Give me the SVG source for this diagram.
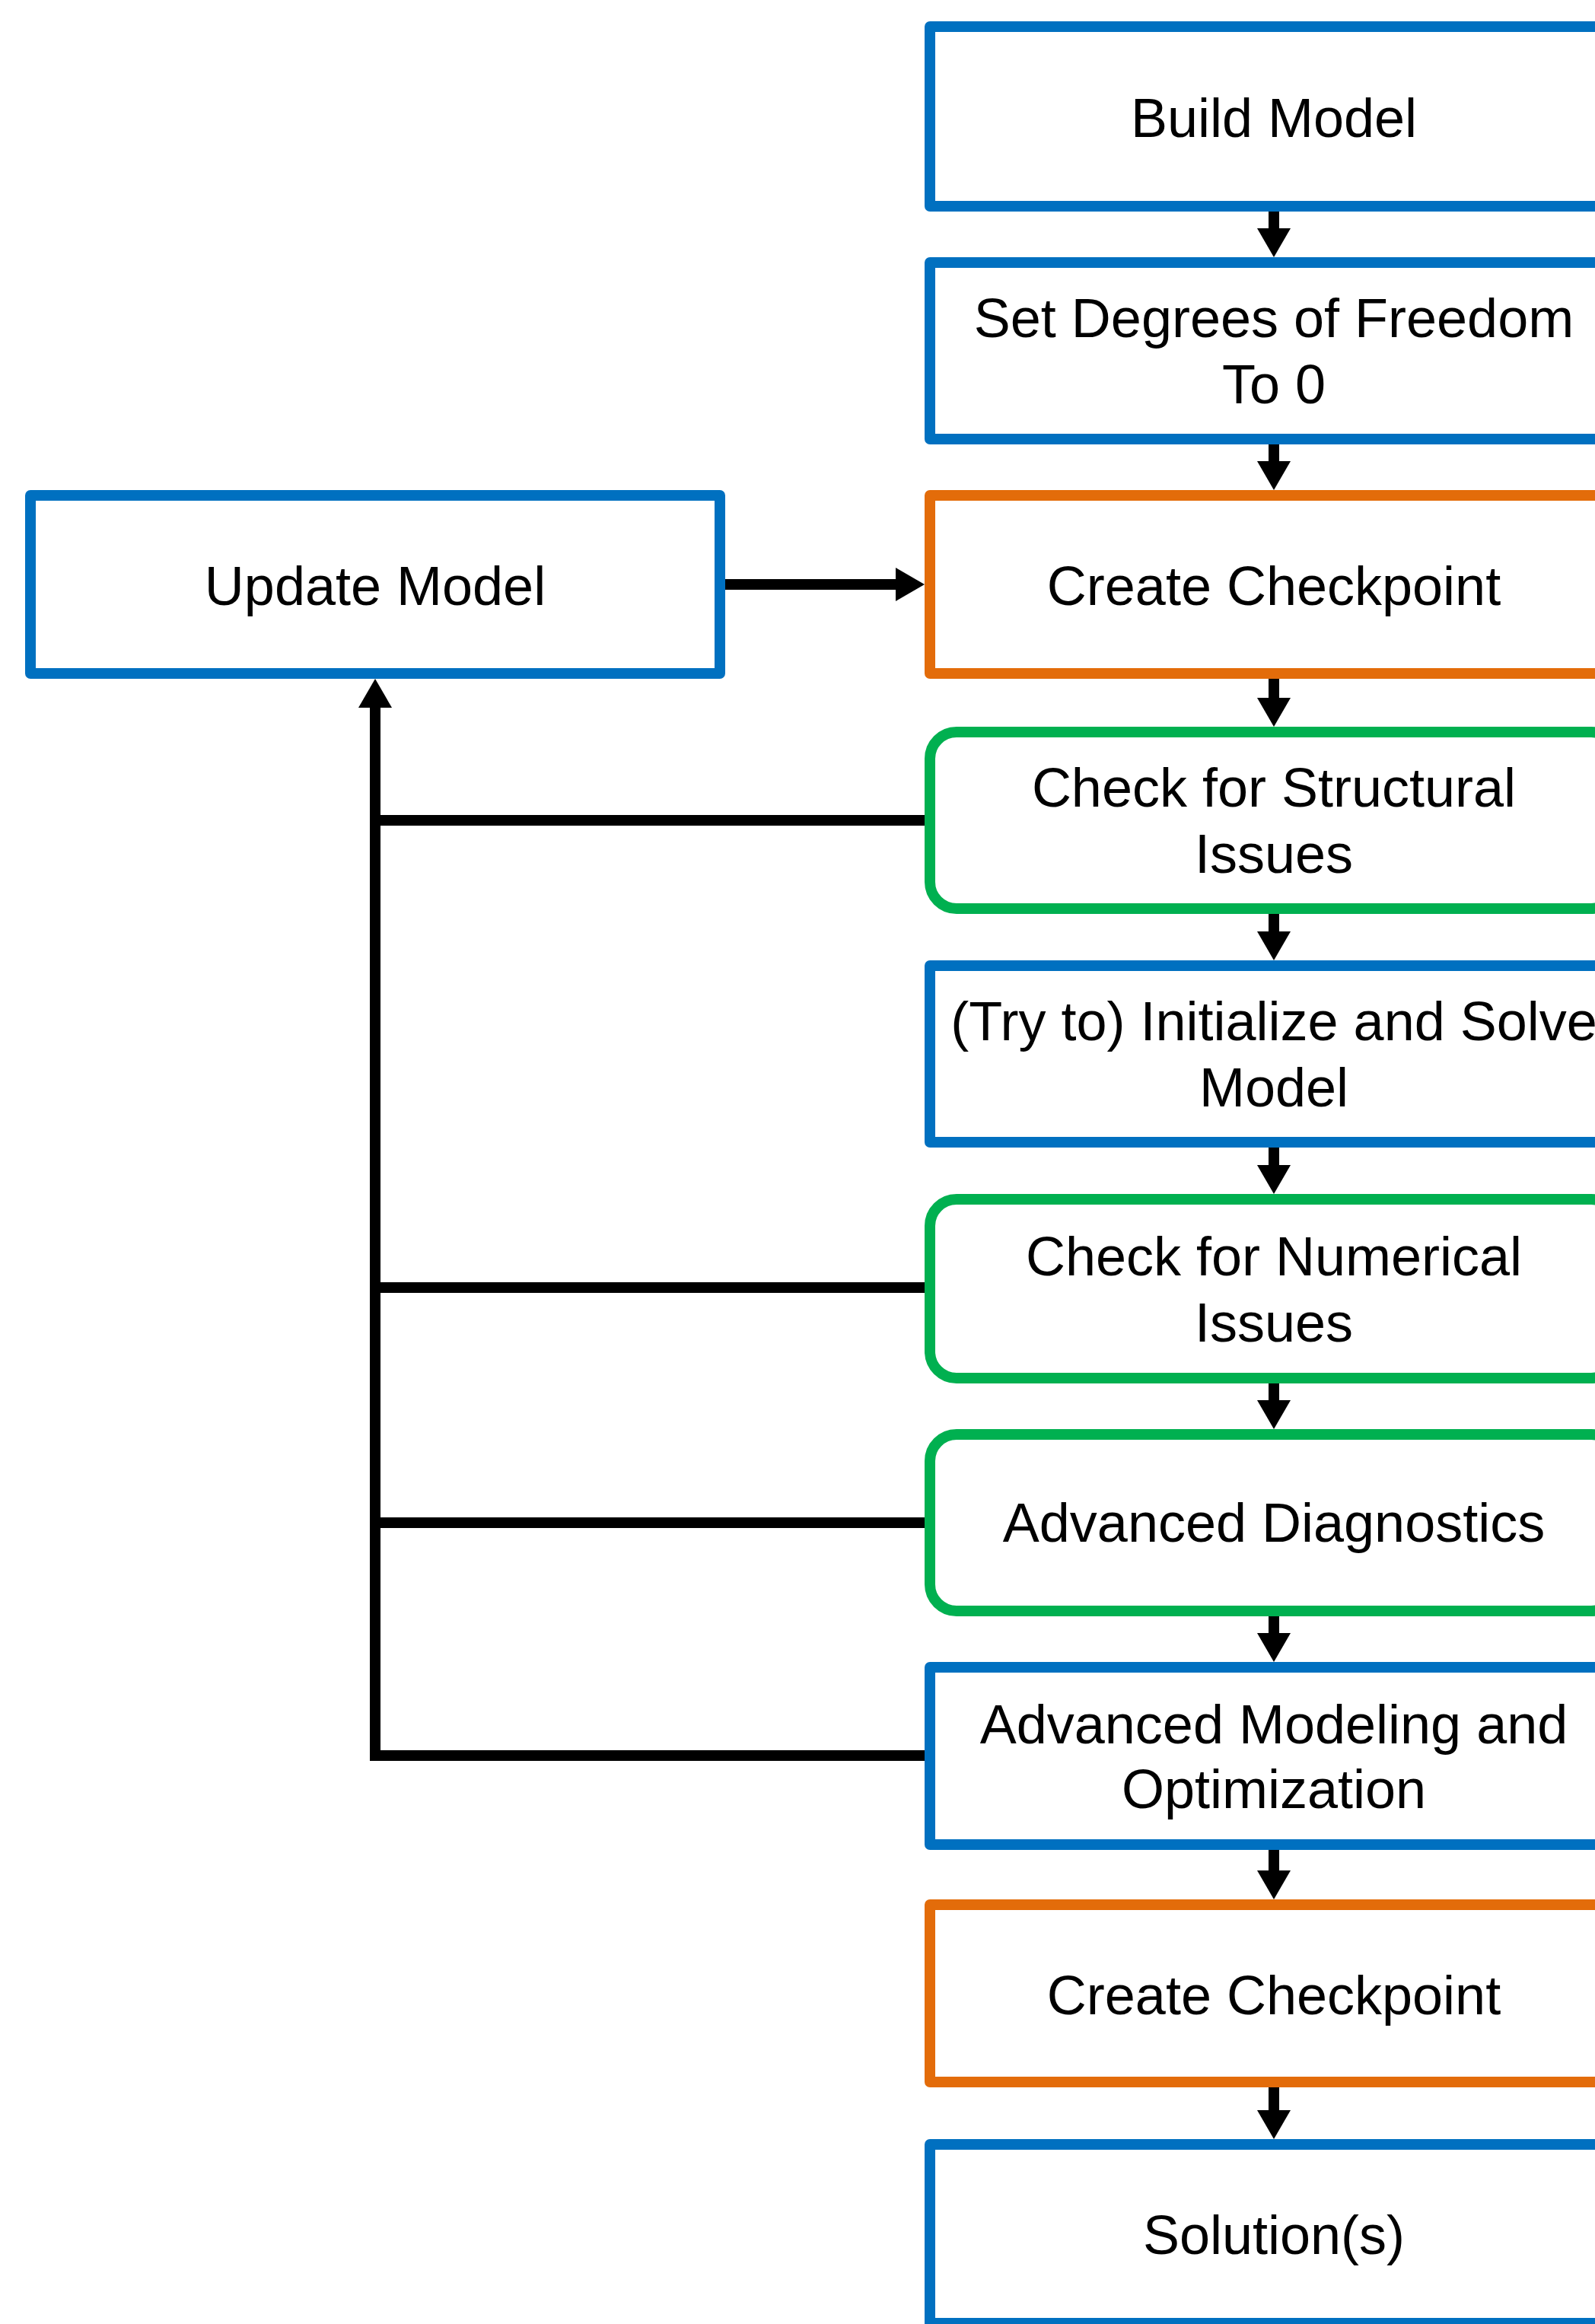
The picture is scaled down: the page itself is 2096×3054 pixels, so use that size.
<svg xmlns="http://www.w3.org/2000/svg" width="2096" height="3054" viewBox="0 0 2096 3054">
<style>
  .box{fill:#FFFFFF;stroke-width:14;stroke-linejoin:round}
  .blue{stroke:#0070C0}
  .orange{stroke:#E36C0A}
  .green{stroke:#00B050}
  .lbl{font-family:"Liberation Sans",Arial,sans-serif;font-size:72px;fill:#000000;text-anchor:middle}
  .conn{fill:none;stroke:#000000;stroke-width:14;stroke-linejoin:miter}
</style>
<defs>
  <marker id="ah" markerWidth="40" markerHeight="44" refX="3" refY="22" orient="auto" markerUnits="userSpaceOnUse">
    <path d="M0,0 L38,22 L0,44 Z" fill="#000000"/>
  </marker>
</defs>
<rect width="2096" height="3054" fill="#FFFFFF"/>

<g id="connectors">
  <line class="conn" x1="1674" y1="271" x2="1674" y2="303" marker-end="url(#ah)"/>
  <line class="conn" x1="1674" y1="577" x2="1674" y2="609" marker-end="url(#ah)"/>
  <line class="conn" x1="1674" y1="885" x2="1674" y2="920" marker-end="url(#ah)"/>
  <line class="conn" x1="1674" y1="1194" x2="1674" y2="1227" marker-end="url(#ah)"/>
  <line class="conn" x1="1674" y1="1501" x2="1674" y2="1534" marker-end="url(#ah)"/>
  <line class="conn" x1="1674" y1="1811" x2="1674" y2="1843" marker-end="url(#ah)"/>
  <line class="conn" x1="1674" y1="2117" x2="1674" y2="2149" marker-end="url(#ah)"/>
  <line class="conn" x1="1674" y1="2424" x2="1674" y2="2461" marker-end="url(#ah)"/>
  <line class="conn" x1="1674" y1="2736" x2="1674" y2="2776" marker-end="url(#ah)"/>
  <line class="conn" x1="953" y1="768" x2="1180" y2="768" marker-end="url(#ah)"/>
  <path class="conn" d="M1215,2307 L493,2307 L493,927" marker-end="url(#ah)"/>
  <line class="conn" x1="1215" y1="1078" x2="493" y2="1078"/>
  <line class="conn" x1="1215" y1="1692" x2="493" y2="1692"/>
  <line class="conn" x1="1215" y1="2001" x2="493" y2="2001"/>
</g>

<g id="build-model">
  <rect class="box blue" x="1222" y="35" width="904" height="236"/>
  <text class="lbl" x="1674" y="180">Build Model</text>
</g>
<g id="set-dof">
  <rect class="box blue" x="1222" y="345" width="904" height="232"/>
  <text class="lbl" x="1674" y="443">Set Degrees of Freedom</text>
  <text class="lbl" x="1674" y="530">To 0</text>
</g>
<g id="update-model">
  <rect class="box blue" x="40" y="651" width="906" height="234"/>
  <text class="lbl" x="493" y="795">Update Model</text>
</g>
<g id="create-checkpoint-1">
  <rect class="box orange" x="1222" y="651" width="904" height="234"/>
  <text class="lbl" x="1674" y="795">Create Checkpoint</text>
</g>
<g id="check-structural">
  <rect class="box green" x="1222" y="962" width="904" height="232" rx="35" ry="35"/>
  <text class="lbl" x="1674" y="1060">Check for Structural</text>
  <text class="lbl" x="1674" y="1147">Issues</text>
</g>
<g id="initialize-solve">
  <rect class="box blue" x="1222" y="1269" width="904" height="232"/>
  <text class="lbl" x="1674" y="1367">(Try to) Initialize and Solve</text>
  <text class="lbl" x="1674" y="1454">Model</text>
</g>
<g id="check-numerical">
  <rect class="box green" x="1222" y="1576" width="904" height="235" rx="35" ry="35"/>
  <text class="lbl" x="1674" y="1676">Check for Numerical</text>
  <text class="lbl" x="1674" y="1763">Issues</text>
</g>
<g id="advanced-diagnostics">
  <rect class="box green" x="1222" y="1885" width="904" height="232" rx="35" ry="35"/>
  <text class="lbl" x="1674" y="2026">Advanced Diagnostics</text>
</g>
<g id="advanced-modeling">
  <rect class="box blue" x="1222" y="2191" width="904" height="233"/>
  <text class="lbl" x="1674" y="2291">Advanced Modeling and</text>
  <text class="lbl" x="1674" y="2376">Optimization</text>
</g>
<g id="create-checkpoint-2">
  <rect class="box orange" x="1222" y="2503" width="904" height="233"/>
  <text class="lbl" x="1674" y="2647">Create Checkpoint</text>
</g>
<g id="solutions">
  <rect class="box blue" x="1222" y="2818" width="904" height="235"/>
  <text class="lbl" x="1674" y="2962">Solution(s)</text>
</g>
</svg>
